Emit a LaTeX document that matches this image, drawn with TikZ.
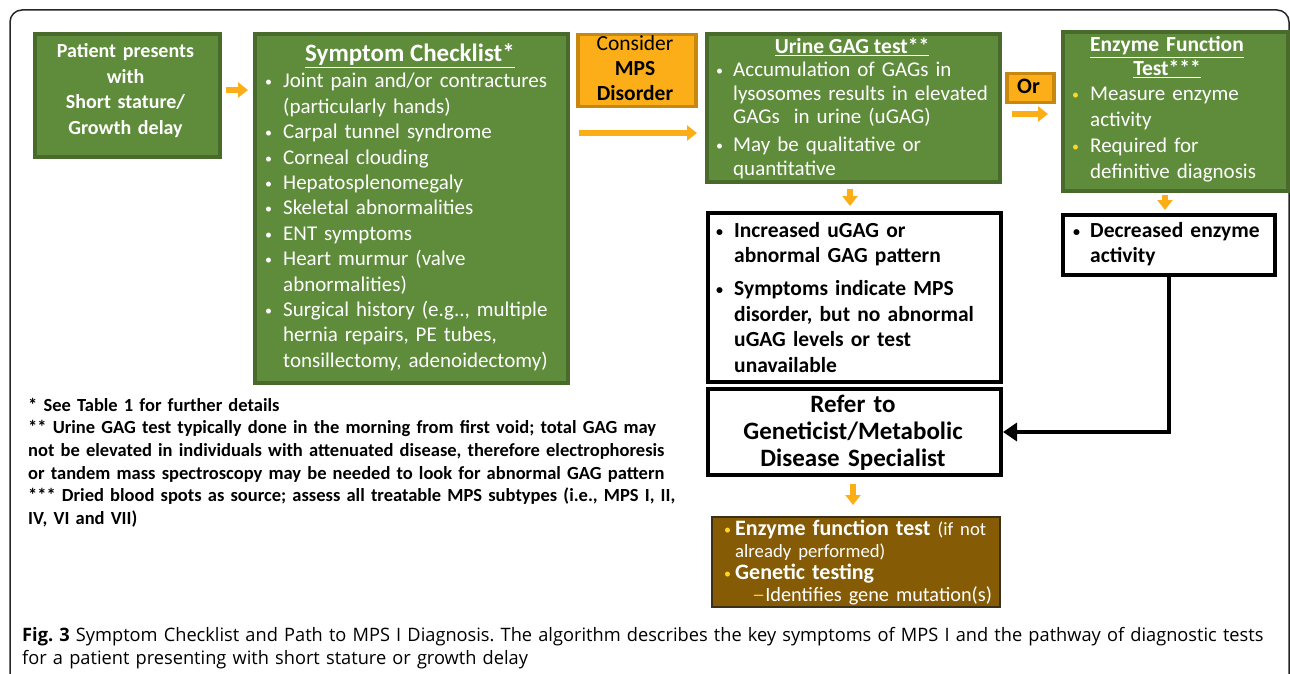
\documentclass[tikz,border=0pt]{standalone}
\usepackage{fontspec}
\setmainfont{Carlito}
\newfontfamily\capfont[FakeStretch=0.985]{Open Sans}
\usetikzlibrary{arrows.meta}
\definecolor{gfill}{RGB}{95,140,59}
\definecolor{gline}{RGB}{72,106,42}
\definecolor{ofill}{RGB}{251,174,23}
\definecolor{oline}{RGB}{200,135,15}
\definecolor{bfill}{RGB}{133,92,5}
\definecolor{bline}{RGB}{60,48,25}
\definecolor{ybul}{RGB}{255,214,40}
\newcommand\fs[2]{\fontsize{#1}{#2}\selectfont}
\newcommand\bul{\raisebox{1pt}{\fontsize{14}{14}\selectfont •}}
\newcommand\bitem[3][white]{{\let\\\newline\noindent\hangindent=#2pt\hangafter=1\makebox[#2pt][l]{\textcolor{#1}{\bul}}#3\par}}
\begin{document}
\begin{tikzpicture}[x=1pt,y=-1pt,
  gbox/.style={draw=gline,fill=gfill,line width=4pt,inner sep=0pt,anchor=north west},
  obox/.style={draw=oline,fill=ofill,line width=3.5pt,inner sep=0pt,anchor=north west},
  wbox/.style={draw=black,fill=white,line width=4pt,inner sep=0pt,anchor=north west},
  brbox/.style={draw=bline,fill=bfill,line width=2pt,inner sep=0pt,anchor=north west},
  txt/.style={inner sep=0pt,anchor=base west,text width=420pt},
  ctxt/.style={inner sep=0pt,anchor=base,align=center},
  oarr/.style={draw=ofill,line width=5.5pt,-{Triangle[length=10pt,width=15pt]}},
  barr/.style={draw=black,line width=4pt,-{Triangle[length=14pt,width=18pt]}}]
\useasboundingbox (0,0) rectangle (1290,674);
\clip (0,0) rectangle (1290,674);
\draw[line width=1.5pt,rounded corners=12pt,color=black!85] (10,10) rectangle (1289,700);

% boxes
\node[gbox,minimum width=185pt,minimum height=123pt] (b1) at (33,32) {};
\node[gbox,minimum width=313pt,minimum height=349pt] (b2) at (253,32) {};
\node[obox,minimum width=118pt,minimum height=72pt] (bc) at (576,33) {};
\node[gbox,minimum width=293pt,minimum height=148pt] (b3) at (705,32) {};
\node[obox,minimum width=47pt,minimum height=29pt] (bo) at (1005,72) {};
\node[gbox,minimum width=225pt,minimum height=159pt] (b4) at (1061,30) {};
\node[wbox,minimum width=293pt,minimum height=169pt] (b5) at (706,211) {};
\node[wbox,minimum width=212pt,minimum height=60pt] (b6) at (1061,213) {};
\node[wbox,minimum width=293pt,minimum height=86pt] (b7) at (706,387) {};
\node[brbox,minimum width=288pt,minimum height=90pt] (b8) at (711,516) {};

% texts
\node[ctxt,text width=185pt,text=white,font=\bfseries\fs{20}{25.4}] (t1) at (125.5,58)
  {Patient presents\\with\\Short stature/\\Growth delay};
\node[ctxt,text=white,font=\bfseries\fs{25}{28}] (h2) at (410,62) {\underline{Symptom Checklist*}};
\node[txt,text=white,font=\fs{21}{25.4}] (t2) at (265,88) {\raggedright
  \bitem{18}{Joint pain and/or contractures\\(particularly hands)}%
  \bitem{18}{Carpal tunnel syndrome}%
  \bitem{18}{Corneal clouding}%
  \bitem{18}{Hepatosplenomegaly}%
  \bitem{18}{Skeletal abnormalities}%
  \bitem{18}{ENT symptoms}%
  \bitem{18}{Heart murmur (valve\\abnormalities)}%
  \bitem{18}{Surgical history (e.g.., multiple\\hernia repairs, PE tubes,\\tonsillectomy, adenoidectomy)}};
\node[ctxt,text width=120pt,font=\fs{21.5}{25}] (tc) at (635,51) {Consider\\\textbf{MPS}\\\textbf{Disorder}};
\node[ctxt,text=white,font=\bfseries\fs{21.5}{24}] (h3) at (852,54) {\underline{Urine GAG test**}};
\node[txt,text=white,font=\fs{21}{23.5}] (t3) at (716,77) {\raggedright\setlength\parskip{4.5pt}%
  \bitem{17}{Accumulation of GAGs in\\lysosomes results in elevated\\GAGs\ \ in urine (uGAG)}%
  \bitem{17}{May be qualitative or\\quantitative}};
\node[ctxt,font=\bfseries\fs{22}{24}] (to) at (1028.5,94) {Or};
\node[ctxt,text width=220pt,text=white,font=\bfseries\fs{21.5}{24}] (h4) at (1167,52)
  {\underline{Enzyme Function}\\\underline{Test***}};
\node[txt,text=white,font=\fs{21}{25.4}] (t4) at (1072,101) {\raggedright\setlength\parskip{1pt}%
  \bitem[ybul]{18}{Measure enzyme\\activity}%
  \bitem[ybul]{18}{Required for\\definitive diagnosis}};
\node[txt,font=\bfseries\fs{21.5}{25.4}] (t5) at (716,237) {\raggedright\setlength\parskip{8pt}%
  \bitem[black]{18}{Increased uGAG or\\abnormal GAG pattern}%
  \bitem[black]{18}{Symptoms indicate MPS\\disorder, but no abnormal\\uGAG levels or test\\unavailable}};
\node[txt,font=\bfseries\fs{21.5}{25.4}] (t6) at (1073,237) {\raggedright
  \bitem[black]{17}{Decreased enzyme\\activity}};
\node[ctxt,text width=290pt,font=\bfseries\fs{25}{27}] (t7) at (853,412)
  {Refer to\\Geneticist/Metabolic\\Disease Specialist};
\node[txt,text=white,font=\fs{21}{22}] (t8) at (724,535) {\raggedright
  \bitem[ybul]{11}{{\fontsize{22}{22}\selectfont\bfseries Enzyme function test} {\fontsize{18.7}{22}\selectfont (if not\\already performed)}}%
  \bitem[ybul]{11}{{\fontsize{22}{22}\selectfont\bfseries Genetic testing}}%
  \noindent\hspace*{28pt}{\fontsize{20.3}{22}\selectfont\textcolor{ybul}{\scalebox{1.3}[1]{–}}Identifies gene mutation(s)}\par};
\node[txt,text width=750pt,font=\bfseries\fs{18.5}{22.7}] (tf) at (28,411) {\raggedright
  {*} See Table 1 for further details\\
  {**} Urine GAG test typically done in the morning from first void; total GAG may\\
  not be elevated in individuals with attenuated disease, therefore electrophoresis\\
  or tandem mass spectroscopy may be needed to look for abnormal GAG pattern\\
  {***} Dried blood spots as source; assess all treatable MPS subtypes (i.e., MPS I, II,\\
  IV, VI and VII)\par};
\node[txt,text width=1300pt,font=\capfont\fs{18.5}{23}] (cap) at (22,641) {\raggedright\frenchspacing
  \textbf{Fig. 3} Symptom Checklist and Path to MPS I Diagnosis. The algorithm describes the key symptoms of MPS I and the pathway of diagnostic tests\\
  for a patient presenting with short stature or growth delay\par};

% connectors
\draw[oarr,shorten <=4pt,shorten >=5pt] (b1.east |- 0,90) -- (b2.west |- 0,90);
\draw[oarr,shorten <=9pt,shorten >=8pt] (b2.east |- 0,133) -- (b3.west |- 0,133);
\draw[oarr,shorten <=10pt,shorten >=13pt] (b3.east |- 0,114) -- (b4.west |- 0,114);
\draw[oarr,shorten <=5pt,shorten >=5pt] (b3.south -| 850,0) -- (b5.north -| 850,0);
\draw[oarr,shorten <=2pt,shorten >=3pt] (b4.south -| 1165,0) -- (b6.north -| 1165,0);
\draw[oarr,shorten <=7pt,shorten >=11pt] (b7.south -| 853,0) -- (b8.north -| 853,0);
\draw[barr] (b6.south) |- (b7.east);
\end{tikzpicture}
\end{document}
